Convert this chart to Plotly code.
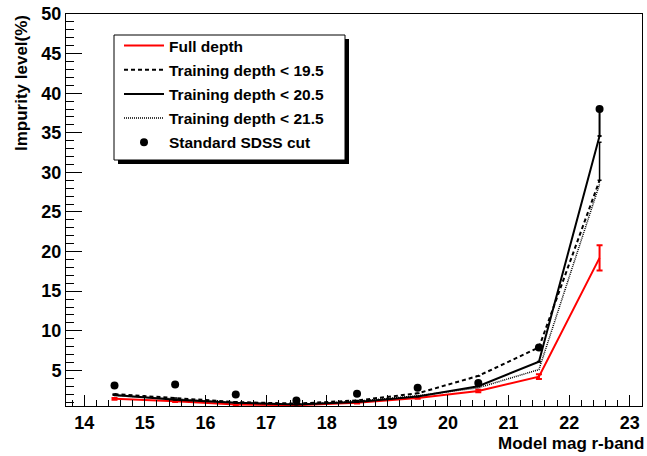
import plotly.graph_objects as go

# ---- data ----
mag = [14.5, 15.5, 16.5, 17.5, 18.5, 19.5, 20.5, 21.5, 22.5]
full_depth = [1.4, 1.1, 0.7, 0.6, 0.9, 1.5, 2.4, 4.2, 19.2]
full_depth_err = [0.1, 0.1, 0.1, 0.1, 0.1, 0.1, 0.15, 0.3, 1.6]
train_195 = [2.0, 1.5, 1.0, 0.8, 1.2, 2.1, 4.3, 7.9, 29.0]
train_195_err_up = [0, 0, 0, 0, 0, 0, 0, 0, 4.8]
train_205 = [1.9, 1.3, 0.9, 0.7, 1.0, 1.7, 3.0, 6.1, 34.6]
train_205_err_up = [0, 0, 0, 0, 0, 0, 0, 0, 3.4]
train_215 = [1.8, 1.4, 0.9, 0.7, 1.1, 1.8, 2.8, 5.1, 28.5]
sdss_cut = [3.1, 3.2, 1.95, 1.2, 2.05, 2.8, 3.4, 7.9, 38.0]

x_ticks = list(range(14, 24))
y_ticks = list(range(5, 51, 5))

FONT = "Liberation Sans, Arial, Helvetica, sans-serif"

fig = go.Figure()

fig.add_trace(go.Scatter(
    x=mag, y=full_depth, mode="lines", name="Full depth",
    line=dict(color="#ff0000", width=2),
    error_y=dict(type="data", array=full_depth_err, color="#ff0000", thickness=2, width=3),
    legendrank=1, legendgroup="a"))
fig.add_trace(go.Scatter(
    x=mag, y=train_215, mode="lines", name="Training depth < 21.5",
    line=dict(color="black", width=1.5, dash="1px,1px"),
    legendrank=4, legendgroup="d"))
fig.add_trace(go.Scatter(
    x=mag, y=train_195, mode="lines", name="Training depth < 19.5",
    line=dict(color="black", width=2, dash="4px,3px"),
    error_y=dict(type="data", array=train_195_err_up, arrayminus=[0] * 9,
                 color="black", thickness=1.5, width=2),
    legendrank=2, legendgroup="b"))
fig.add_trace(go.Scatter(
    x=mag, y=train_205, mode="lines", name="Training depth < 20.5",
    line=dict(color="black", width=2),
    error_y=dict(type="data", array=train_205_err_up, arrayminus=[0] * 9,
                 color="black", thickness=2, width=2),
    legendrank=3, legendgroup="c"))
fig.add_trace(go.Scatter(
    x=mag, y=sdss_cut, mode="markers", name="Standard SDSS cut",
    marker=dict(color="black", size=8, symbol="circle"),
    legendrank=5, legendgroup="e"))

# plot-area geometry in pixels (for paper-coordinate layout helpers)
W, H = 647, 456
L, R, T, B = 66, 5, 14, 50
pw, ph = W - L - R, H - T - B


def px(xp):
    return (xp - L) / pw


def py(yp):
    return (H - B - yp) / ph


# legend box with shadow (ROOT style)
shapes = [
    dict(type="rect", xref="paper", yref="paper", x0=px(118), x1=px(349), y0=py(164), y1=py(39),
         fillcolor="black", line=dict(width=0), layer="above"),
    dict(type="rect", xref="paper", yref="paper", x0=px(114), x1=px(345), y0=py(160), y1=py(35),
         fillcolor="white", line=dict(color="black", width=1), layer="above"),
]

fig.update_layout(
    width=W, height=H,
    margin=dict(l=L, r=R, t=T, b=B, pad=0),
    paper_bgcolor="white", plot_bgcolor="white",
    font=dict(family=FONT, color="black"),
    showlegend=True,
    legend=dict(x=px(119), y=py(29), xanchor="left", yanchor="top",
                bgcolor="rgba(0,0,0,0)", borderwidth=0,
                font=dict(family=FONT, size=15.5, weight="bold", color="black"),
                tracegroupgap=1, itemwidth=40),
    shapes=shapes,
    annotations=[
        dict(text="Impurity level(%)", xref="paper", yref="paper", x=px(22), y=py(13),
             xanchor="center", yanchor="top", textangle=-90, showarrow=False,
             font=dict(family=FONT, size=17, weight="bold", color="black")),
        dict(text="Model mag r-band", xref="paper", yref="paper", x=px(646), y=py(455),
             xanchor="right", yanchor="bottom", showarrow=False,
             font=dict(family=FONT, size=17, weight="bold", color="black")),
    ],
)

fig.update_xaxes(
    range=[13.7, 23.2], tickvals=x_ticks, ticktext=[str(v) for v in x_ticks],
    ticks="inside", ticklen=11, tickwidth=1, tickcolor="black",
    minor=dict(ticks="inside", dtick=0.2, tick0=0, ticklen=6, tickcolor="black", tickwidth=1),
    showline=True, linecolor="black", linewidth=1, mirror=True,
    showgrid=False, zeroline=False,
    tickfont=dict(family=FONT, size=18, weight="bold", color="black"),
)
fig.update_yaxes(
    range=[0.5, 50], tickvals=y_ticks, ticktext=[str(v) for v in y_ticks],
    ticks="inside", ticklen=16, tickwidth=1, tickcolor="black",
    minor=dict(ticks="inside", dtick=1, tick0=0, ticklen=8, tickcolor="black", tickwidth=1),
    showline=True, linecolor="black", linewidth=1, mirror=True,
    showgrid=False, zeroline=False,
    tickfont=dict(family=FONT, size=18, weight="bold", color="black"),
)

fig.write_html("out.html")
